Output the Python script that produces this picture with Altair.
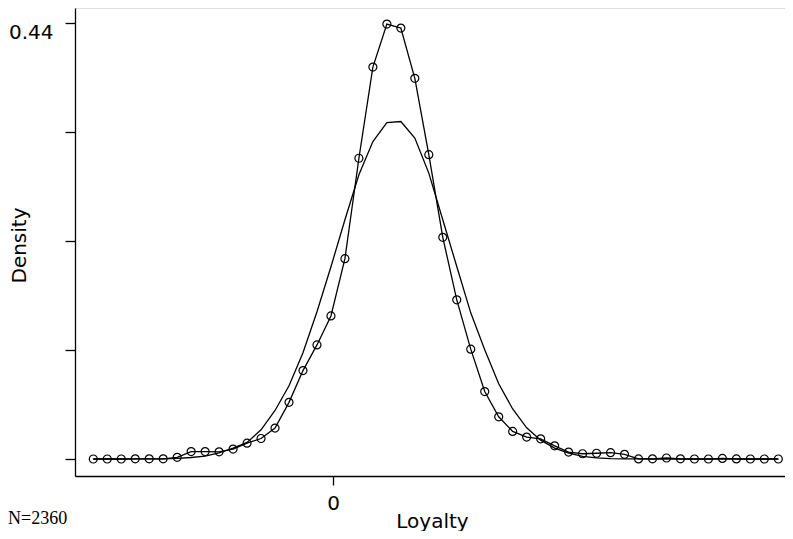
import altair as alt
import pandas as pd

# Evaluation grid (50 points, as in a default kdensity)
loyalty = [-4.63, -4.36, -4.09, -3.82, -3.55, -3.28, -3.01, -2.74, -2.47, -2.20,
           -1.93, -1.66, -1.39, -1.12, -0.85, -0.58, -0.31, -0.04, 0.23, 0.50,
           0.77, 1.04, 1.31, 1.58, 1.85, 2.12, 2.39, 2.66, 2.93, 3.20,
           3.47, 3.74, 4.01, 4.28, 4.55, 4.82, 5.09, 5.36, 5.63, 5.90,
           6.17, 6.44, 6.71, 6.98, 7.25, 7.52, 7.79, 8.06, 8.33, 8.60]

# Kernel density estimate (circles)
kde_density = [0.0000, 0.0000, 0.0000, 0.0002, 0.0002, 0.0002, 0.0017, 0.0075, 0.0075, 0.0072,
               0.0100, 0.0160, 0.0207, 0.0312, 0.0572, 0.0893, 0.1152, 0.1445, 0.2023, 0.3037,
               0.3958, 0.4392, 0.4352, 0.3844, 0.3073, 0.2239, 0.1607, 0.1109, 0.0681, 0.0426,
               0.0278, 0.0221, 0.0204, 0.0133, 0.0070, 0.0053, 0.0058, 0.0064, 0.0047, 0.0001,
               0.0002, 0.0010, 0.0002, 0.0000, 0.0000, 0.0006, 0.0001, 0.0000, 0.0000, 0.0000]

# Normal density overlay
normal_density = [0.0000, 0.0000, 0.0000, 0.0001, 0.0001, 0.0002, 0.0007, 0.0015, 0.0030, 0.0061,
                  0.0110, 0.0167, 0.0295, 0.0490, 0.0740, 0.1073, 0.1487, 0.1941, 0.2416, 0.2870,
                  0.3206, 0.3398, 0.3408, 0.3241, 0.2887, 0.2416, 0.1944, 0.1476, 0.1103, 0.0760,
                  0.0505, 0.0315, 0.0190, 0.0110, 0.0060, 0.0027, 0.0012, 0.0004, 0.0002, 0.0001,
                  0.0000, 0.0000, 0.0000, 0.0000, 0.0000, 0.0000, 0.0000, 0.0000, 0.0000, 0.0000]

y_ticks = [0, 0.11, 0.22, 0.33, 0.44]
x_ticks = [0]
note_text = ["N=2360"]

df = pd.DataFrame({"Loyalty": loyalty, "kde": kde_density, "normal": normal_density})
note_df = pd.DataFrame({"note": note_text})

FONT = "DejaVu Sans"

xs = alt.Scale(domain=[-4.983, 8.729], nice=False, zero=False)
ys = alt.Scale(domain=[-0.01717, 0.45545], nice=False, zero=False)

x_axis = alt.Axis(
    values=x_ticks, title="Loyalty", grid=False,
    tickSize=9, tickWidth=1.3, tickColor="black",
    domainColor="black", domainWidth=1.3,
    labelFont=FONT, labelFontSize=20, labelColor="black",
    labelBaseline="alphabetic", labelPadding=24,
    titleFont=FONT, titleFontSize=20, titleFontWeight="normal", titleColor="black",
    titleX=357, titleY=51, titleAlign="center", titleBaseline="alphabetic",
)

y_axis = alt.Axis(
    values=y_ticks, title="Density", grid=False,
    labelExpr="datum.value > 0.43 ? '0.44' : ''",
    tickSize=10, tickWidth=1.3, tickColor="black",
    domainColor="black", domainWidth=1.3,
    labelFont=FONT, labelFontSize=20, labelColor="black",
    labelBaseline="alphabetic", labelOffset=15, labelPadding=12,
    titleFont=FONT, titleFontSize=20, titleFontWeight="normal", titleColor="black",
    titleAngle=270, titleX=-56, titleY=237, titleAlign="center", titleBaseline="middle",
)

base = alt.Chart(df)

normal_line = base.mark_line(color="black", strokeWidth=1.3).encode(
    x=alt.X("Loyalty:Q", scale=xs, axis=x_axis),
    y=alt.Y("normal:Q", scale=ys, axis=y_axis),
)

kde_line = base.mark_line(color="black", strokeWidth=1.3).encode(
    x=alt.X("Loyalty:Q", scale=xs),
    y=alt.Y("kde:Q", scale=ys),
)

kde_points = base.mark_point(shape="circle", filled=False, color="black",
                             size=64, strokeWidth=1.2, opacity=1).encode(
    x=alt.X("Loyalty:Q", scale=xs),
    y=alt.Y("kde:Q", scale=ys),
)

note = alt.Chart(note_df).mark_text(
    font="Liberation Serif", fontSize=18, align="left", baseline="alphabetic", color="black"
).encode(
    x=alt.value(-67), y=alt.value(516), text="note:N"
)

chart = alt.layer(normal_line, kde_line, kde_points, note).properties(
    width=710, height=468,
    autosize=alt.AutoSizeParams(type="none"),
    padding={"left": 67, "top": 0, "right": 0, "bottom": 55},
).configure_view(strokeWidth=0).configure(background="white")

chart.save("out.html", embed_options={"renderer": "svg", "actions": False})
